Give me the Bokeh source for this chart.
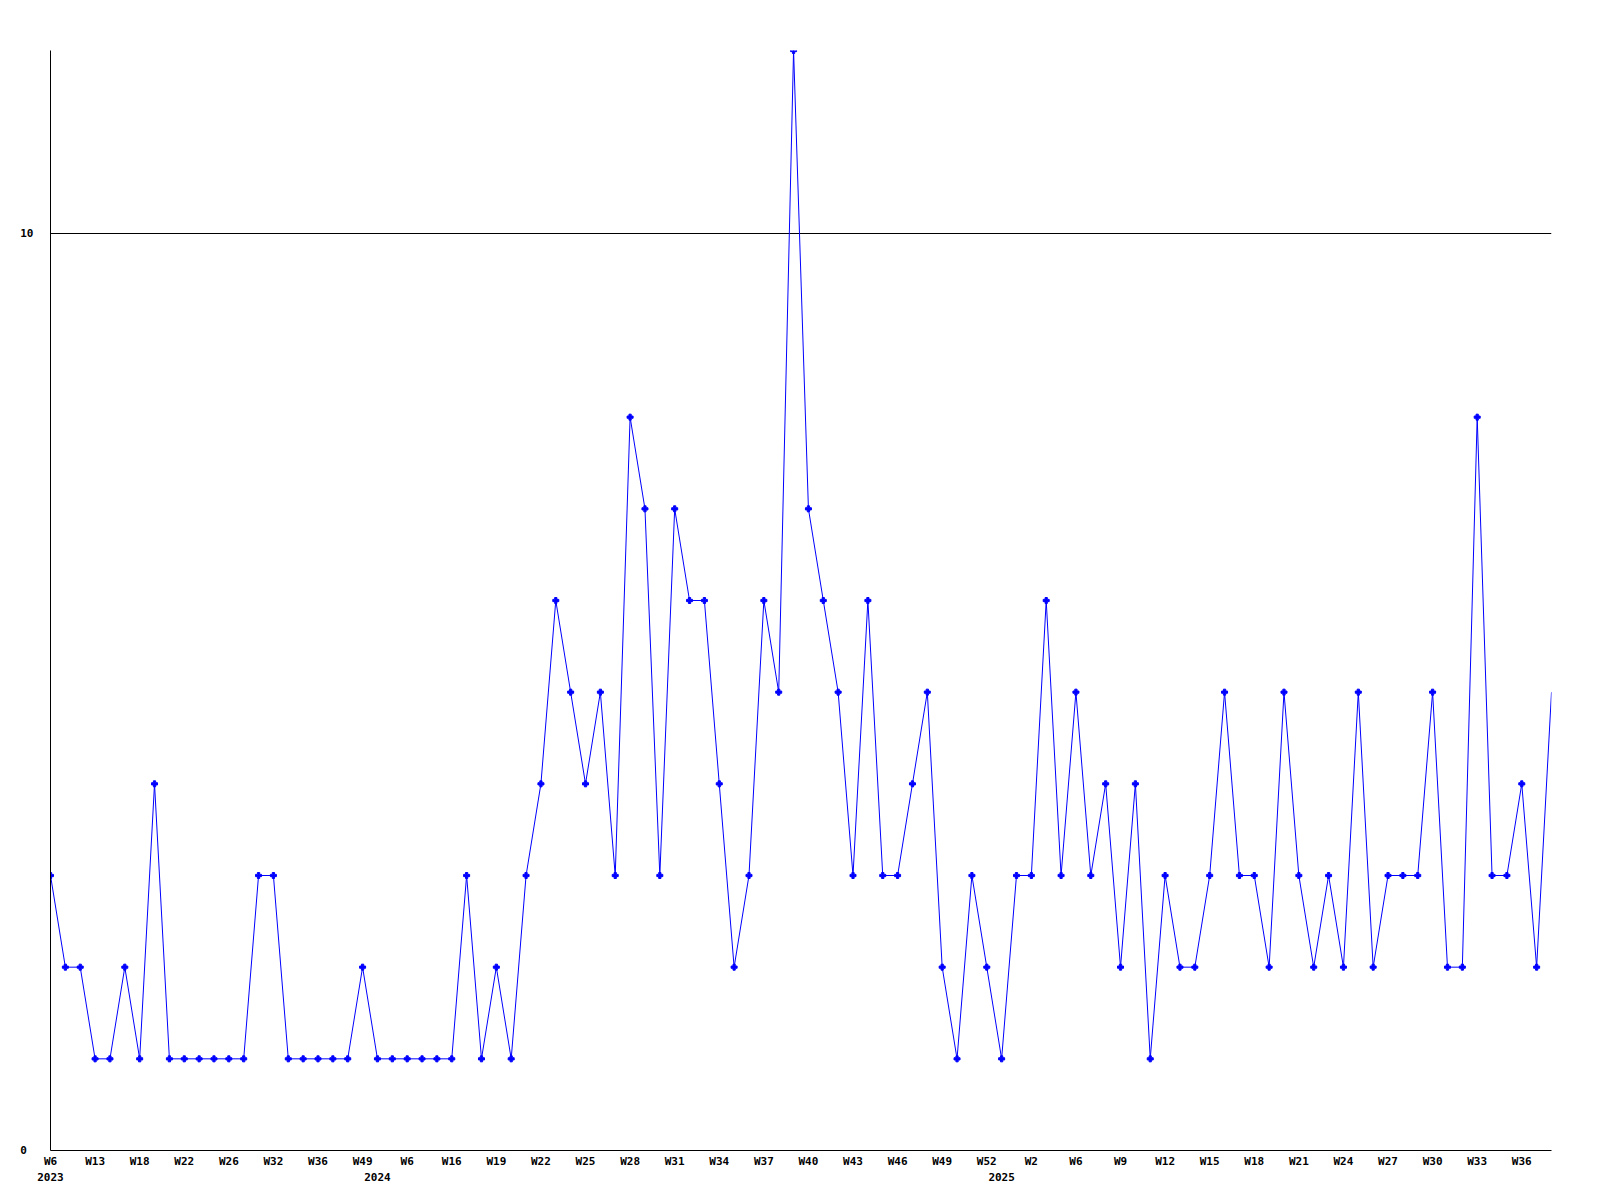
from bokeh.plotting import figure
from bokeh.models import Range1d, FixedTicker, LinearAxis, Grid
from bokeh.embed import file_html
from bokeh.resources import INLINE

# ---- data ----
values = [3, 2, 2, 1, 1, 2, 1, 4, 1, 1,
          1, 1, 1, 1, 3, 3, 1, 1, 1, 1,
          1, 2, 1, 1, 1, 1, 1, 1, 3, 1,
          2, 1, 3, 4, 6, 5, 4, 5, 3, 8,
          7, 3, 7, 6, 6, 4, 2, 3, 6, 5,
          12, 7, 6, 5, 3, 6, 3, 3, 4, 5,
          2, 1, 3, 2, 1, 3, 3, 6, 3, 5,
          3, 4, 2, 4, 1, 3, 2, 2, 3, 5,
          3, 3, 2, 5, 3, 2, 3, 2, 5, 2,
          3, 3, 3, 5, 2, 2, 8, 3, 3, 4,
          2, 5]
week_labels = ["W6", "W13", "W18", "W22", "W26", "W32", "W36", "W49",
               "W6", "W16", "W19", "W22", "W25", "W28", "W31", "W34", "W37",
               "W40", "W43", "W46", "W49", "W52",
               "W2", "W6", "W9", "W12", "W15", "W18", "W21", "W24", "W27",
               "W30", "W33", "W36"]
label_every = 3
year_labels = ["2023", "2024", "2025"]
year_first_point = [0, 22, 64]
y_ticks = [0, 10]

n = len(values)
xs = list(range(n))
tick_idx = list(range(0, n, label_every))[:len(week_labels)]

FONT = "DejaVu Sans Mono"

p = figure(width=1584, height=1190, output_backend="svg", toolbar_location=None,
           x_range=Range1d(0, n - 1), y_range=Range1d(0, 12),
           min_border_left=50, min_border_right=33, min_border_top=50,
           min_border_bottom=40, x_axis_location=None, y_axis_location=None)
p.outline_line_color = None
p.background_fill_color = "white"
p.border_fill_color = "white"


def style_axis(ax, standoff, line_color="black"):
    ax.major_tick_out = 0
    ax.major_tick_in = 0
    ax.minor_tick_out = 0
    ax.minor_tick_in = 0
    ax.major_label_standoff = standoff
    ax.axis_line_color = line_color
    ax.major_label_text_font = FONT
    ax.major_label_text_font_style = "bold"
    ax.major_label_text_font_size = "11px"
    ax.major_label_text_color = "black"


# y axis
yax = LinearAxis(ticker=FixedTicker(ticks=y_ticks))
yax.major_label_overrides = {0: "0\u00a0", 10: "10"}
style_axis(yax, 17)
p.add_layout(yax, "left")

# x axis (weeks)
xax = LinearAxis(ticker=FixedTicker(ticks=tick_idx))
xax.major_label_overrides = {i: lab for i, lab in zip(tick_idx, week_labels)}
style_axis(xax, 4)
p.add_layout(xax, "below")

# x axis (years)
yrax = LinearAxis(ticker=FixedTicker(ticks=year_first_point))
yrax.major_label_overrides = {i: lab for i, lab in zip(year_first_point, year_labels)}
style_axis(yrax, 2, None)
p.add_layout(yrax, "below")

# grid: only line at 10
p.xgrid.visible = False
p.ygrid.visible = False
g = Grid(dimension=1, ticker=FixedTicker(ticks=[10]))
g.grid_line_color = "black"
g.grid_line_width = 1
g.grid_line_alpha = 1.0
p.add_layout(g)

p.line(xs, values, line_color="#0000ff", line_width=1)
p.scatter(xs[:-1], values[:-1], marker="plus", size=6, color="#0000ff")

open("out.html", "w").write(file_html(p, INLINE))
